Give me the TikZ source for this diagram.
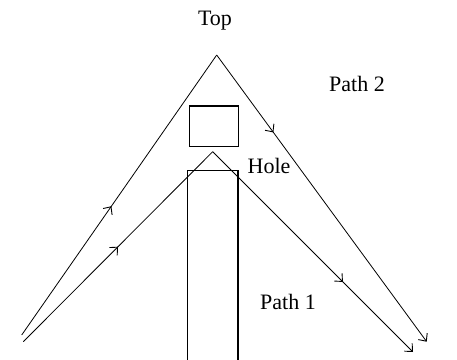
\documentclass[tikz,border=0pt]{standalone}
\usepackage{fontspec}
\setmainfont{Liberation Serif}
\usetikzlibrary{decorations.markings,arrows.meta}
\begin{document}
\begin{tikzpicture}[x=1pt,y=-1pt,
  ray/.style={draw=black,line width=0.8pt},
  midarrow/.style={postaction={decorate},decoration={markings,
    mark=at position #1 with {\arrow{Straight Barb[length=6pt,width=11pt,line width=0.9pt]}}}},
  endarrow/.style={-{Straight Barb[length=6pt,width=11pt,line width=0.9pt]}},
  wall/.style={draw=black,line width=1.1pt},
  lbl/.style={font=\fontsize{22}{24}\selectfont,inner sep=0pt}]
\useasboundingbox[fill=white] (0,0) rectangle (457,359);

% obstacle above the opening and the column below it
\draw[wall] (189.3,106) rectangle (238.5,146.5);
\draw[wall] (187.7,362) -- (187.7,170.5) -- (238,170.5) -- (238,362);

% turning points and ends of the two paths
\coordinate (s2) at (21.7,335);
\coordinate (top2) at (216.7,55);
\coordinate (e2) at (426.7,341.7);
\coordinate (s1) at (23.3,341.7);
\coordinate (top1) at (212.7,151.7);
\coordinate (e1) at (413,352);

% path 2 over the top
\draw[ray,midarrow=0.46] (s2) -- (top2);
\draw[ray,midarrow=0.27,endarrow] (top2) -- (e2);

% path 1 through the hole
\draw[ray,midarrow=0.5] (s1) -- (top1);
\draw[ray,midarrow=0.65,endarrow] (top1) -- (e1);

% labels
\node[lbl] (ltop) at (215,21) {Top};
\node[lbl] (lpath2) at (357,84) {Path 2};
\node[lbl] (lhole) at (269,166) {Hole};
\node[lbl] (lpath1) at (288,302) {Path 1};
\end{tikzpicture}
\end{document}
